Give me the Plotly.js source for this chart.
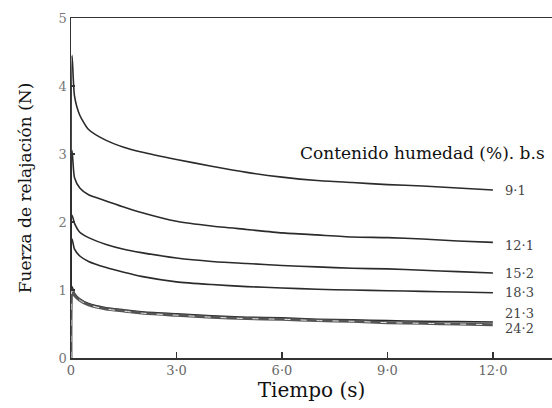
<!DOCTYPE html>
<html>
<head>
<meta charset="utf-8">
<script src="https://cdn.plot.ly/plotly-3.0.1.min.js"></script>
<style>html,body{margin:0;padding:0;background:#fff;}#chart{width:552px;height:408px;}</style>
</head>
<body>
<div id="chart"></div>
<script>
// Time (s)
var tiempo = [0, 0.03, 0.1, 0.25, 0.5, 1, 1.5, 2, 3, 4, 5, 6, 7, 8, 9, 10, 11, 12];
// Relaxation force (N) for each moisture content (% d.b.)
var h9_1  = [0, 4.45, 3.85, 3.57, 3.36, 3.20, 3.10, 3.03, 2.92, 2.82, 2.73, 2.66, 2.61, 2.58, 2.55, 2.53, 2.50, 2.47];
var h12_1 = [0, 3.05, 2.65, 2.50, 2.40, 2.31, 2.22, 2.14, 2.01, 1.94, 1.89, 1.84, 1.81, 1.78, 1.77, 1.75, 1.72, 1.70];
var h15_2 = [0, 2.10, 1.98, 1.85, 1.77, 1.67, 1.60, 1.55, 1.47, 1.42, 1.39, 1.36, 1.34, 1.32, 1.31, 1.29, 1.27, 1.25];
var h18_3 = [0, 1.75, 1.60, 1.50, 1.42, 1.33, 1.26, 1.20, 1.12, 1.08, 1.05, 1.03, 1.01, 1.00, 0.99, 0.98, 0.97, 0.96];
var h21_3 = [0, 1.05, 0.95, 0.87, 0.80, 0.74, 0.71, 0.68, 0.65, 0.62, 0.60, 0.59, 0.57, 0.56, 0.55, 0.54, 0.535, 0.53];
var h24_2 = [0, 1.00, 0.92, 0.85, 0.78, 0.72, 0.69, 0.66, 0.63, 0.60, 0.58, 0.57, 0.55, 0.54, 0.52, 0.51, 0.50, 0.49];
var etiquetas = ["9·1", "12·1", "15·2", "18·3", "21·3", "24·2"];
var xTickVals = [0, 3, 6, 9, 12];
var xTickText = ["0", "3·0", "6·0", "9·0", "12·0"];
var yTickVals = [0, 1, 2, 3, 4, 5];

var serif = "DejaVu Serif";
var series = [h9_1, h12_1, h15_2, h18_3, h21_3];
var traces = series.map(function (s, i) {
  return {x: tiempo, y: s, mode: "lines", name: etiquetas[i],
          line: {color: "#2b2b2b", width: 1.6, shape: "spline", smoothing: 0.6}, hoverinfo: "skip"};
});
traces.push({x: tiempo, y: h24_2, mode: "lines", name: etiquetas[5],
             line: {color: "#555", width: 3, shape: "spline", smoothing: 0.6}, hoverinfo: "skip"});
traces.push({x: tiempo, y: h24_2, mode: "lines", name: etiquetas[5] + "b",
             line: {color: "#e8e8e8", width: 1, dash: "6px,10px", shape: "spline", smoothing: 0.6}, hoverinfo: "skip"});

var labelY = [2.47, 1.66, 1.25, 0.96, 0.66, 0.44];
var annotations = etiquetas.map(function (e, i) {
  return {x: 12.3, y: labelY[i], xref: "x", yref: "y", text: e, showarrow: false,
          xanchor: "left", yanchor: "middle", font: {family: serif, size: 13, color: "#444"}};
});
annotations.push({x: 6.45, y: 3.01, xref: "x", yref: "y", text: "Contenido humedad (%). b.s", showarrow: false,
  xanchor: "left", yanchor: "middle", font: {family: serif, size: 17, color: "#111"}});

var layout = {
  width: 552, height: 408,
  margin: {l: 71, r: 0, t: 18, b: 50, pad: 0},
  paper_bgcolor: "#fff", plot_bgcolor: "#fff",
  showlegend: false,
  xaxis: {range: [0, 13.68], tickvals: xTickVals, ticktext: xTickText, ticks: "inside", ticklen: 6,
          tickcolor: "#333", tickwidth: 1.5, showline: true, linecolor: "#333", linewidth: 1.5, mirror: true,
          showgrid: false, zeroline: false, tickfont: {family: serif, size: 13, color: "#666"},
          title: {text: "Tiempo (s)", font: {family: serif, size: 20, color: "#111"}, standoff: 5}},
  yaxis: {range: [0, 5], tickvals: yTickVals, ticks: "inside", ticklen: 4, tickcolor: "#333", tickwidth: 1.5,
          showline: true, linecolor: "#333", linewidth: 1.5, showgrid: false, zeroline: false,
          tickfont: {family: serif, size: 13, color: "#777"},
          title: {text: "Fuerza de relajación (N)", font: {family: serif, size: 17, color: "#111"}, standoff: 22}},
  annotations: annotations
};
Plotly.newPlot("chart", traces, layout, {staticPlot: true, displayModeBar: false});
</script>
</body>
</html>
